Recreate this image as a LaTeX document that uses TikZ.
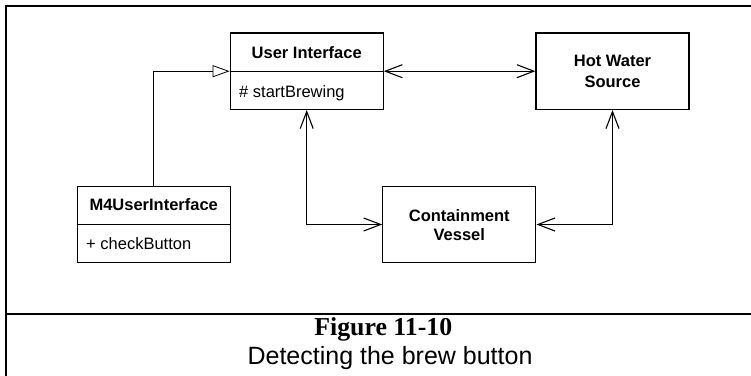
\documentclass[tikz,border=0pt]{standalone}
\usepackage{fontspec}
\setmainfont{Liberation Sans}
\newfontfamily\timesfont{Liberation Serif}
\usetikzlibrary{arrows.meta}
\begin{document}
\begin{tikzpicture}[x=1pt,y=-1pt,
  classbox/.style={draw=black, line width=1.2pt, rectangle, minimum width=153pt, minimum height=76.5pt, inner sep=0pt},
  boxtitle/.style={anchor=base, inner sep=0pt, font=\bfseries\fontsize{16.5}{19}\selectfont},
  member/.style={anchor=base west, inner sep=0pt, font=\fontsize{16.5}{19}\selectfont},
  assoc/.style={line width=1.1pt, {Straight Barb[length=17pt,width=13pt]}-{Straight Barb[length=17pt,width=13pt]}},
  inherit/.style={line width=0.8pt, -{Triangle[open,length=17pt,width=12pt,fill=white]}},
  frameline/.style={line width=2.2pt}]
\useasboundingbox (0,0) rectangle (751,375);
% frame
\coordinate (tl) at (6,6);
\coordinate (tr) at (751,6);
\coordinate (bl) at (6,375);
\coordinate (dl) at (6,314);
\coordinate (dr) at (751,314);
\draw[frameline, line cap=rect] (bl) -- (tl) -- (tr);
\draw[frameline] (dl) -- (dr);
% boxes
\node[classbox] (ui) at (306.7,71.2) {};
\node[classbox] (hws) at (612.5,71.2) {};
\node[classbox] (m4) at (153.7,224.5) {};
\node[classbox] (cv) at (459.3,224.5) {};
\draw[line width=1.2pt] (ui.west) -- (ui.east);
\draw[line width=1.2pt] (m4.west) -- (m4.east);
% texts
\node[boxtitle] (uit) at (306.7,58.7) {User Interface};
\node[member] (uim) at (239,97) {\# startBrewing};
\node[boxtitle] (hwt1) at (612.5,66.5) {Hot Water};
\node[boxtitle] (hwt2) at (612.5,87) {Source};
\node[boxtitle] (m4t) at (153.7,210.7) {M4UserInterface};
\node[member] (m4m) at (86,249.3) {+ checkButton};
\node[boxtitle] (cvt1) at (459.3,221) {Containment};
\node[boxtitle] (cvt2) at (459.3,240.3) {Vessel};
% connectors
\draw[inherit] (m4.north) |- (ui.west);
\draw[assoc] (ui.east) -- (hws.west);
\draw[assoc] (ui.south) |- (cv.west);
\draw[assoc] (hws.south) |- (cv.east);
% caption
\node[anchor=base, inner sep=0pt, font=\timesfont\bfseries\fontsize{25.8}{30}\selectfont] (fig) at (383.3,335.7) {Figure 11-10};
\node[anchor=base, inner sep=0pt, font=\fontsize{25}{30}\selectfont] (cap) at (390,364) {Detecting the brew button};
\end{tikzpicture}
\end{document}
